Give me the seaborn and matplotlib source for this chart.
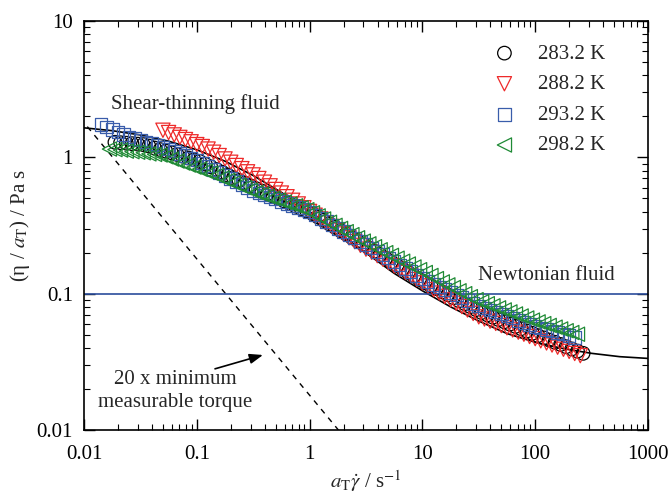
import matplotlib
matplotlib.use("Agg")
import matplotlib.pyplot as plt
import matplotlib.ticker as mticker
import seaborn as sns

# ---------------- data ----------------
series_labels = ["283.2 K", "288.2 K", "293.2 K", "298.2 K"]

# shifted shear rates a_T * gamma_dot / s^-1 (two interleaved measurement grids)
rate_grid_a = [0.0126, 0.0141, 0.0158, 0.0178, 0.0200, 0.0224, 0.0251, 0.0282, 0.0316, 0.0355,
               0.0398, 0.0447, 0.0501, 0.0562, 0.0631, 0.0708, 0.0794, 0.0891,
               0.100, 0.112, 0.126, 0.141, 0.158, 0.178, 0.200, 0.224, 0.251, 0.282, 0.316,
               0.355, 0.398, 0.447, 0.501, 0.562, 0.631, 0.708, 0.794, 0.891,
               1.00, 1.12, 1.26, 1.41, 1.58, 1.78, 2.00, 2.24, 2.51, 2.82, 3.16, 3.55, 3.98,
               4.47, 5.01, 5.62, 6.31, 7.08, 7.94, 8.91,
               10.0, 11.2, 12.6, 14.1, 15.8, 17.8, 20.0, 22.4, 25.1, 28.2, 31.6, 35.5, 39.8,
               44.7, 50.1, 56.2, 63.1, 70.8, 79.4, 89.1,
               100, 112, 126, 141, 158, 178, 200, 224, 251, 282]
rate_grid_b = [0.0133, 0.0150, 0.0168, 0.0188, 0.0211, 0.0237, 0.0266, 0.0299, 0.0335, 0.0376,
               0.0422, 0.0473, 0.0531, 0.0596, 0.0668, 0.0750, 0.0841, 0.0944,
               0.106, 0.119, 0.133, 0.150, 0.168, 0.188, 0.211, 0.237, 0.266, 0.299, 0.335,
               0.376, 0.422, 0.473, 0.531, 0.596, 0.668, 0.750, 0.841, 0.944,
               1.06, 1.19, 1.33, 1.50, 1.68, 1.88, 2.11, 2.37, 2.66, 2.99, 3.35, 3.76, 4.22,
               4.73, 5.31, 5.96, 6.68, 7.50, 8.41, 9.44,
               10.6, 11.9, 13.3, 15.0, 16.8, 18.8, 21.1, 23.7, 26.6, 29.9, 33.5, 37.6, 42.2,
               47.3, 53.1, 59.6, 66.8, 75.0, 84.1, 94.4,
               106, 119, 133, 150, 168, 188, 211, 237, 266]

x_283 = rate_grid_b[3:87]
y_283 = [1.29, 1.28, 1.27, 1.26, 1.25, 1.24, 1.21, 1.17, 1.14, 1.11, 1.08, 1.05, 1.02, 0.989,
         0.960, 0.933, 0.891, 0.852, 0.813, 0.777, 0.742, 0.709, 0.677, 0.647, 0.618, 0.590,
         0.566, 0.542, 0.520, 0.498, 0.478, 0.458, 0.439, 0.421, 0.403, 0.387, 0.365, 0.345,
         0.325, 0.307, 0.290, 0.274, 0.258, 0.244, 0.230, 0.217, 0.205, 0.193, 0.182, 0.171,
         0.161, 0.152, 0.143, 0.135, 0.127, 0.120, 0.114, 0.109, 0.103, 0.0982, 0.0934,
         0.0888, 0.0845, 0.0804, 0.0764, 0.0727, 0.0699, 0.0672, 0.0646, 0.0622, 0.0598,
         0.0575, 0.0553, 0.0532, 0.0512, 0.0492, 0.0474, 0.0457, 0.0440, 0.0424, 0.0408,
         0.0393, 0.0379, 0.0365]

x_288 = rate_grid_a[12:87]
y_288 = [1.58, 1.52, 1.46, 1.40, 1.35, 1.30, 1.24, 1.20, 1.15, 1.09, 1.03, 0.973, 0.920,
         0.871, 0.826, 0.783, 0.743, 0.699, 0.657, 0.618, 0.581, 0.547, 0.514, 0.484, 0.455,
         0.427, 0.401, 0.376, 0.353, 0.331, 0.311, 0.292, 0.274, 0.257, 0.241, 0.226, 0.212,
         0.201, 0.190, 0.179, 0.169, 0.160, 0.151, 0.143, 0.135, 0.127, 0.120, 0.114, 0.107,
         0.101, 0.0955, 0.0902, 0.0851, 0.0804, 0.0759, 0.0716, 0.0676, 0.0652, 0.0628,
         0.0605, 0.0583, 0.0562, 0.0542, 0.0522, 0.0504, 0.0485, 0.0468, 0.0451, 0.0435,
         0.0420, 0.0405, 0.0391, 0.0377, 0.0364, 0.0351]

x_293 = rate_grid_a[1:86]
y_293 = [1.74, 1.67, 1.60, 1.53, 1.47, 1.41, 1.37, 1.34, 1.30, 1.26, 1.23, 1.19, 1.15, 1.11,
         1.07, 1.03, 0.991, 0.955, 0.907, 0.861, 0.818, 0.776, 0.737, 0.700, 0.665, 0.631,
         0.599, 0.569, 0.549, 0.530, 0.511, 0.493, 0.476, 0.459, 0.443, 0.428, 0.413, 0.398,
         0.377, 0.356, 0.337, 0.319, 0.302, 0.286, 0.270, 0.256, 0.242, 0.229, 0.216, 0.204,
         0.193, 0.182, 0.172, 0.162, 0.153, 0.145, 0.136, 0.129, 0.123, 0.117, 0.112, 0.107,
         0.102, 0.0977, 0.0933, 0.0891, 0.0851, 0.0813, 0.0785, 0.0759, 0.0733, 0.0708,
         0.0684, 0.0661, 0.0638, 0.0617, 0.0596, 0.0575, 0.0561, 0.0546, 0.0532, 0.0518,
         0.0505, 0.0491, 0.0479]

x_298 = rate_grid_b[2:86]
y_298 = [1.15, 1.14, 1.13, 1.11, 1.10, 1.09, 1.08, 1.06, 1.05, 1.04, 1.01, 0.972, 0.939,
         0.908, 0.878, 0.848, 0.820, 0.792, 0.766, 0.735, 0.706, 0.678, 0.650, 0.624, 0.599,
         0.575, 0.552, 0.535, 0.518, 0.501, 0.486, 0.470, 0.455, 0.441, 0.427, 0.413, 0.392,
         0.372, 0.353, 0.334, 0.317, 0.301, 0.285, 0.271, 0.257, 0.243, 0.232, 0.221, 0.210,
         0.200, 0.191, 0.182, 0.173, 0.165, 0.157, 0.150, 0.143, 0.136, 0.129, 0.122, 0.116,
         0.111, 0.105, 0.100, 0.0951, 0.0904, 0.0873, 0.0844, 0.0815, 0.0787, 0.0760, 0.0735,
         0.0710, 0.0686, 0.0663, 0.0640, 0.0621, 0.0603, 0.0585, 0.0568, 0.0551, 0.0535,
         0.0519, 0.0504]

# fitted flow curve (solid black line)
fit_x = [0.01, 0.0178, 0.0316, 0.0562, 0.1, 0.178, 0.316, 0.562, 1, 1.78, 3.16, 5.62, 10,
         17.8, 31.6, 56.2, 100, 178, 316, 562, 1000]
fit_y = [1.646, 1.568, 1.459, 1.314, 1.136, 0.937, 0.736, 0.553, 0.400, 0.283, 0.199, 0.141,
         0.105, 0.080, 0.063, 0.051, 0.044, 0.0395, 0.0365, 0.0345, 0.0335]

# 20 x minimum measurable torque limit (dashed line)
torque_x = [0.0107, 1.8]
torque_y = [1.68, 0.01]

newtonian_eta = 0.1

x_ticks = [0.01, 0.1, 1, 10, 100, 1000]
x_tick_labels = ["0.01", "0.1", "1", "10", "100", "1000"]
y_ticks = [0.01, 0.1, 1, 10]
y_tick_labels = ["0.01", "0.1", "1", "10"]

# ---------------- styling ----------------
sns.set_style("ticks")
plt.rcParams['font.family'] = ['Liberation Serif', 'DejaVu Serif']
plt.rcParams['mathtext.fontset'] = 'stix'
FS = 15

fig = plt.figure(figsize=(6.7, 4.96), dpi=100)
ax = fig.add_axes([84 / 670, 1 - 430 / 496, (648 - 84) / 670, (430 - 21) / 496])
ax.set_xscale('log')
ax.set_yscale('log')

# lines
sns.lineplot(x=fit_x, y=fit_y, color='black', lw=1.2, sort=False, estimator=None, ax=ax, zorder=1)
sns.lineplot(x=torque_x, y=torque_y, color='black', lw=1.0, linestyle=(0, (4, 4)),
             sort=False, estimator=None, ax=ax, zorder=1)
ax.axhline(newtonian_eta, color='#2b4d9c', lw=1.2, zorder=1)

series = [
    (x_283, y_283, 'o', 'black', 95),
    (x_288, y_288, 'v', '#ee2a2a', 105),
    (x_293, y_293, 's', '#3a5dab', 82),
    (x_298, y_298, '<', '#1f8a35', 105),
]
for (xs, ys, mk, col, size), lab in zip(series, series_labels):
    sns.scatterplot(x=xs, y=ys, marker=mk, s=size, color=col, linewidth=0.9, ax=ax,
                    label=lab, zorder=2)
    coll = ax.collections[-1]
    coll.set_facecolor('none')
    coll.set_edgecolor(col)

ax.set_xlim(0.01, 1000)
ax.set_ylim(0.01, 10)
ax.set_xticks(x_ticks, x_tick_labels)
ax.set_yticks(y_ticks, y_tick_labels)
ax.xaxis.set_minor_formatter(mticker.NullFormatter())
ax.yaxis.set_minor_formatter(mticker.NullFormatter())
ax.tick_params(which='both', direction='in', top=True, right=True, colors='black',
               labelsize=FS)
ax.tick_params(which='major', length=8, width=1.0)
ax.tick_params(which='minor', length=4, width=0.8)
ax.tick_params(axis='x', which='major', pad=11)
ax.tick_params(axis='y', which='major', pad=8)
for sp in ax.spines.values():
    sp.set_color('black')
    sp.set_linewidth(1.2)

ax.set_xlabel(r"$a_\mathrm{T}\dot{\gamma}$ / s$^{-1}$", fontsize=FS, labelpad=3)
ax.set_ylabel(r"(η / $a_\mathrm{T}$) / Pa s", fontsize=FS, labelpad=3)

# annotations
ax.text(0.0964, 2.47, "Shear-thinning fluid", ha='center', va='center', fontsize=FS)
ax.text(125, 0.135, "Newtonian fluid", ha='center', va='center', fontsize=FS)
ax.text(0.0641, 0.0193, "20 x minimum\nmeasurable torque", ha='center', va='center',
        fontsize=FS, linespacing=1.25)
ax.annotate("", xy=(0.386, 0.0355), xytext=(0.145, 0.0281),
            arrowprops=dict(arrowstyle='-|>,head_length=0.8,head_width=0.3', color='black',
                            lw=1.2, shrinkA=0, shrinkB=0))

leg = ax.legend(frameon=False, loc='upper left', bbox_to_anchor=(494 / 670, 1 - 44 / 496),
                bbox_transform=fig.transFigure, fontsize=FS, handletextpad=1.1,
                labelspacing=0.53, borderpad=0, borderaxespad=0, handlelength=1.0,
                scatterpoints=1)

fig.savefig("out.png", dpi=100)
